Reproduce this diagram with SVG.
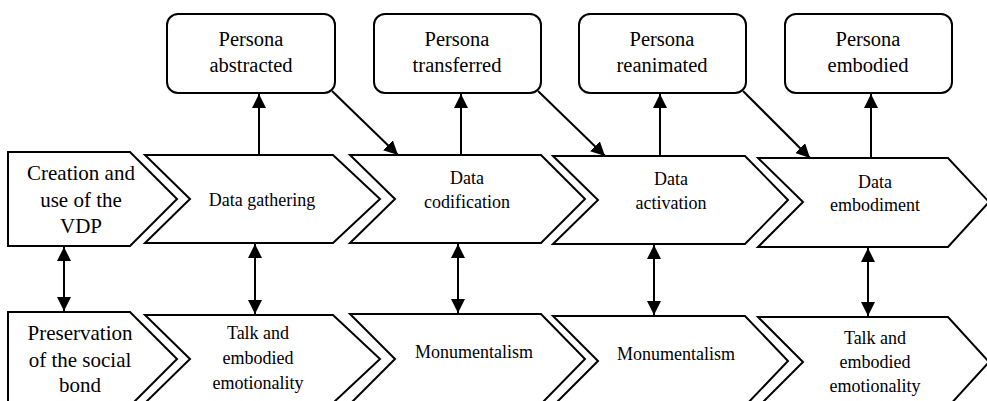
<svg xmlns="http://www.w3.org/2000/svg" width="987" height="401" viewBox="0 0 987 401">
<defs>
<style>
.sh{fill:#fff;stroke:#000;stroke-width:2;stroke-linejoin:miter}
.ln{stroke:#000;stroke-width:2;fill:none}
text{fill:#000;text-anchor:middle;font-family:"Liberation Serif","Noto Serif","DejaVu Serif",Georgia,serif}
.tb{font-size:20.5px}
.tl{font-size:21px}
.tc{font-size:18px}
</style>
<marker id="ah" markerUnits="userSpaceOnUse" markerWidth="14" markerHeight="14" viewBox="0 0 12 12" refX="12" refY="6" orient="auto-start-reverse">
<path d="M0,0 L12,6 L0,12 Z" fill="#000"/>
</marker>
</defs>
<rect width="987" height="401" fill="#fff"/>
<g id="connectors">
<line class="ln" x1="259" y1="155" x2="259" y2="94" marker-end="url(#ah)"/>
<line class="ln" x1="461" y1="155" x2="461" y2="94" marker-end="url(#ah)"/>
<line class="ln" x1="660" y1="156" x2="660" y2="94" marker-end="url(#ah)"/>
<line class="ln" x1="871" y1="158" x2="871" y2="94" marker-end="url(#ah)"/>
<line class="ln" x1="332" y1="91" x2="398" y2="155" marker-end="url(#ah)"/>
<line class="ln" x1="538" y1="91" x2="605" y2="156" marker-end="url(#ah)"/>
<line class="ln" x1="743" y1="91" x2="810" y2="158" marker-end="url(#ah)"/>
<line class="ln" x1="64" y1="247" x2="64" y2="311" marker-start="url(#ah)" marker-end="url(#ah)"/>
<line class="ln" x1="255" y1="244" x2="255" y2="314" marker-start="url(#ah)" marker-end="url(#ah)"/>
<line class="ln" x1="458" y1="244" x2="458" y2="313" marker-start="url(#ah)" marker-end="url(#ah)"/>
<line class="ln" x1="654" y1="245" x2="654" y2="315" marker-start="url(#ah)" marker-end="url(#ah)"/>
<line class="ln" x1="868" y1="248" x2="868" y2="316" marker-start="url(#ah)" marker-end="url(#ah)"/>
</g>
<g id="persona-abstracted">
<rect class="sh" x="167" y="14" width="168" height="79" rx="11"/>
<text class="tb" x="251" y="46">Persona</text>
<text class="tb" x="251" y="72">abstracted</text>
</g>
<g id="persona-transferred">
<rect class="sh" x="374" y="14" width="167" height="79" rx="11"/>
<text class="tb" x="457" y="46">Persona</text>
<text class="tb" x="457" y="72">transferred</text>
</g>
<g id="persona-reanimated">
<rect class="sh" x="579" y="14" width="167" height="79" rx="11"/>
<text class="tb" x="662" y="46">Persona</text>
<text class="tb" x="662" y="72">reanimated</text>
</g>
<g id="persona-embodied">
<rect class="sh" x="785" y="14" width="167" height="79" rx="11"/>
<text class="tb" x="868" y="46">Persona</text>
<text class="tb" x="868" y="72">embodied</text>
</g>
<g id="creation">
<polygon class="sh" points="8,152 130,152 177,199 130,246 8,246"/>
<text class="tl" x="81" y="180">Creation and</text>
<text class="tl" x="81" y="207">use of the</text>
<text class="tl" x="81" y="233">VDP</text>
</g>
<g id="data-gathering">
<polygon class="sh" points="145,155 333,155 380,199 333,243 145,243 190,199"/>
<text class="tc" x="262" y="206">Data gathering</text>
</g>
<g id="data-codification">
<polygon class="sh" points="350,155 541,155 585,199 541,243 350,243 395,199"/>
<text class="tc" x="467" y="184">Data</text>
<text class="tc" x="467" y="208">codification</text>
</g>
<g id="data-activation">
<polygon class="sh" points="553,156 745,156 788,200 745,244 553,244 598,200"/>
<text class="tc" x="671" y="185">Data</text>
<text class="tc" x="671" y="209">activation</text>
</g>
<g id="data-embodiment">
<polygon class="sh" points="758,158 948,158 989,202 948,247 758,247 803,202"/>
<text class="tc" x="875" y="188">Data</text>
<text class="tc" x="875" y="211">embodiment</text>
</g>
<g id="preservation">
<polygon class="sh" points="8,312 130,312 177,359 130,406 8,406"/>
<text class="tl" x="80" y="340">Preservation</text>
<text class="tl" x="80" y="367">of the social</text>
<text class="tl" x="80" y="392">bond</text>
</g>
<g id="talk-1">
<polygon class="sh" points="145,315 333,315 380,359 333,403 145,403 190,359"/>
<text class="tc" x="258" y="339">Talk and</text>
<text class="tc" x="258" y="364">embodied</text>
<text class="tc" x="258" y="389">emotionality</text>
</g>
<g id="monumentalism-1">
<polygon class="sh" points="350,314 541,314 585,359 541,404 350,404 395,359"/>
<text class="tc" x="474" y="358">Monumentalism</text>
</g>
<g id="monumentalism-2">
<polygon class="sh" points="553,316 745,316 788,361 745,406 553,406 598,361"/>
<text class="tc" x="676" y="360">Monumentalism</text>
</g>
<g id="talk-2">
<polygon class="sh" points="758,317 948,317 989,362 948,407 758,407 803,362"/>
<text class="tc" x="875" y="344">Talk and</text>
<text class="tc" x="875" y="368">embodied</text>
<text class="tc" x="875" y="392">emotionality</text>
</g>
</svg>
